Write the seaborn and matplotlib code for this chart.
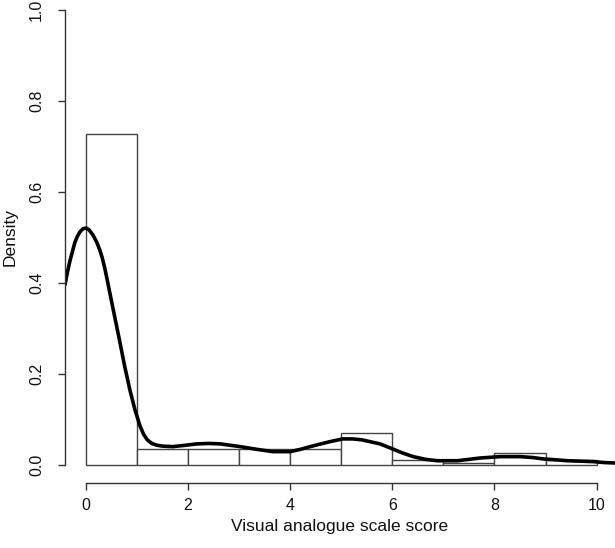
import numpy as np
import matplotlib
matplotlib.use("Agg")
from matplotlib import pyplot as plt
import seaborn as sns

# histogram bins (VAS score) and bar heights (density)
bin_edges = [0, 1, 2, 3, 4, 5, 6, 7, 8, 9, 10]
bar_density = [0.728, 0.034, 0.034, 0.034, 0.034, 0.071, 0.011, 0.005, 0.025, 0.011]

# density curve
kde_x = [-0.41, -0.36, -0.31, -0.26, -0.22, -0.17, -0.12, -0.06, 0.0, 0.06, 0.14,
         0.21, 0.27, 0.32, 0.37, 0.42, 0.47, 0.57, 0.67, 0.76, 0.86, 0.96, 1.06,
         1.13, 1.20, 1.29, 1.39, 1.51, 1.70, 1.95, 2.17, 2.40, 2.63, 3.02,
         3.35, 3.66, 4.00, 4.20, 4.39, 4.60, 4.78, 5.03, 5.22, 5.40, 5.60, 5.76,
         5.96, 6.20, 6.41, 6.65, 6.88, 7.27, 7.50, 7.72, 8.11, 8.50, 8.75, 8.95,
         9.20, 9.42, 9.70, 9.93, 10.15, 10.36]
kde_y = [0.396, 0.425, 0.45, 0.471, 0.488, 0.502, 0.512, 0.519, 0.521, 0.517, 0.505,
         0.490, 0.473, 0.455, 0.432, 0.405, 0.377, 0.322, 0.267, 0.216, 0.165, 0.121, 0.085,
         0.067, 0.055, 0.047, 0.043, 0.041, 0.040, 0.043, 0.046, 0.047, 0.046, 0.040,
         0.034, 0.029, 0.029, 0.034, 0.040, 0.046, 0.051, 0.057, 0.057, 0.055, 0.050, 0.046,
         0.037, 0.026, 0.018, 0.012, 0.009, 0.009, 0.012, 0.015, 0.018, 0.018, 0.016, 0.013,
         0.011, 0.009, 0.008, 0.007, 0.005, 0.004]

x_ticks = [0, 2, 4, 6, 8, 10]
y_ticks = [0.0, 0.2, 0.4, 0.6, 0.8, 1.0]

sns.set_style("white")
plt.rcParams['font.family'] = ['Liberation Sans', 'DejaVu Sans']

fig = plt.figure(figsize=(6.15, 5.48), dpi=100)
ax = fig.add_axes([65 / 615, 65 / 548, 1 - 65 / 615, 491 / 548])

mids = [(a + b) / 2 for a, b in zip(bin_edges[:-1], bin_edges[1:])]
sns.histplot(x=mids, weights=bar_density, bins=bin_edges, stat="count",
             color="white", edgecolor="#444444", linewidth=1.0, alpha=1, ax=ax)
sns.lineplot(x=kde_x, y=kde_y, color="black", linewidth=2.6, sort=False, ax=ax,
             solid_joinstyle="round", solid_capstyle="round")

ax.set_xlim(-0.41, 10.36)
ax.set_ylim(-0.04, 1.04)
ax.set_xticks(x_ticks)
ax.set_xticklabels([str(t) for t in x_ticks])
ax.set_yticks(y_ticks)
ax.set_yticklabels([f"{t:.1f}" for t in y_ticks], rotation=90, va="center")

for s in ["top", "right"]:
    ax.spines[s].set_visible(False)
ax.spines["left"].set_bounds(0, 1)
ax.spines["bottom"].set_bounds(0, 10)
for s in ["left", "bottom"]:
    ax.spines[s].set_color("#333333")
    ax.spines[s].set_linewidth(1.0)

ax.tick_params(axis="both", direction="out", length=5, width=1.0, color="#333333",
               labelsize=11.5, labelcolor="#111111", left=True, bottom=True)
ax.tick_params(axis="y", pad=10)
ax.tick_params(axis="x", pad=6)

ax.set_xlabel("Visual analogue scale score", fontsize=12.5, color="#111111", labelpad=4)
ax.set_ylabel("Density", fontsize=12.5, color="#111111", labelpad=8)

fig.savefig("out.png", dpi=100)
